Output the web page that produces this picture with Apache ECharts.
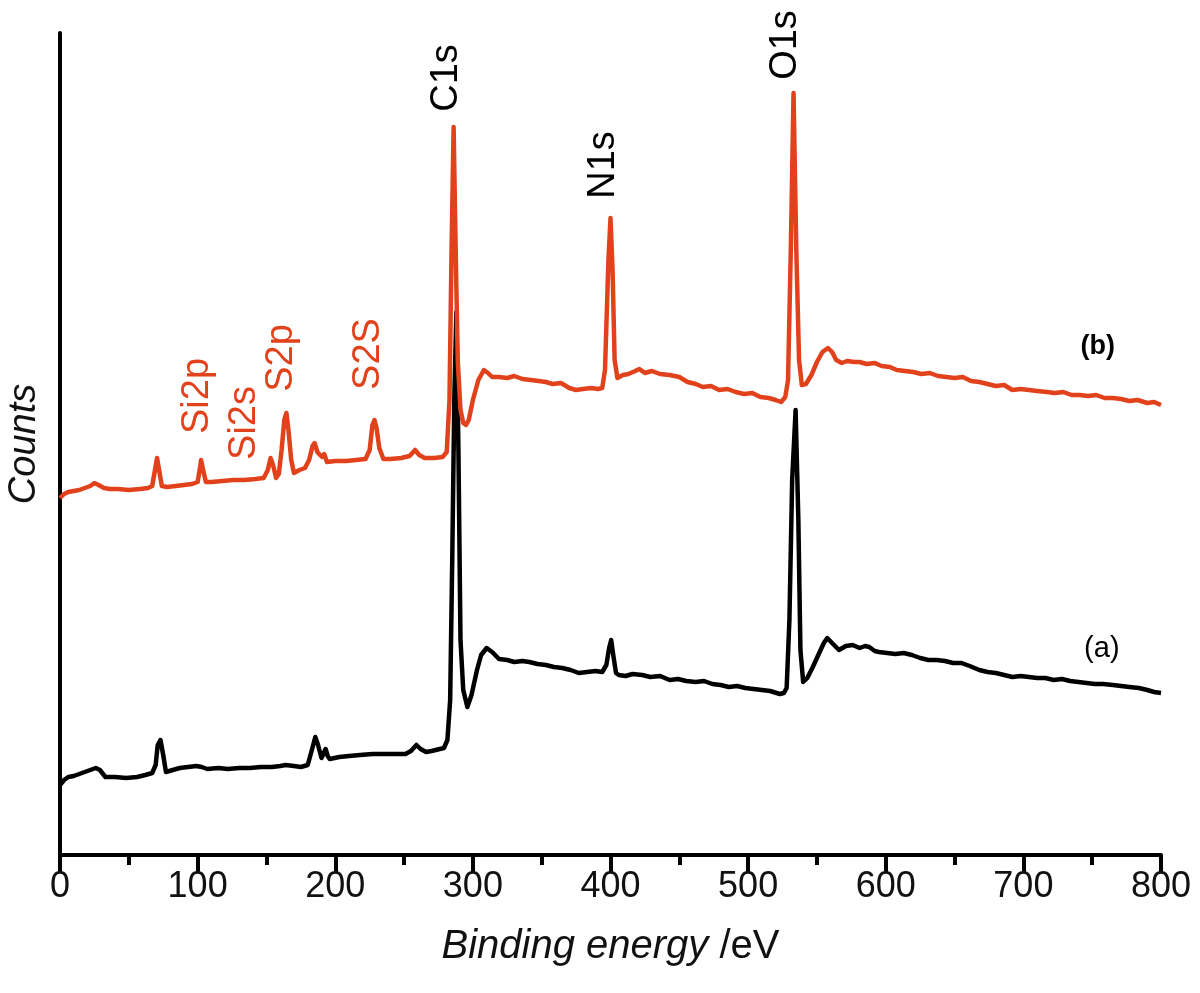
<!DOCTYPE html>
<html>
<head>
<meta charset="utf-8">
<script src="https://cdn.jsdelivr.net/npm/echarts@6/dist/echarts.min.js"></script>
<style>
  html, body { margin: 0; padding: 0; background: #fff; }
  #chart { width: 1200px; height: 993px; }
</style>
</head>
<body>
<div id="chart"></div>
<script>
// XPS survey spectra, counts in arbitrary units
const xTicks = [0, 100, 200, 300, 400, 500, 600, 700, 800]

// (b) red spectrum: [binding energy eV, counts]
const spectrumB = [
  [0, 357], [3, 361], [6, 363], [10, 364], [14, 365], [18, 367], [22, 369], [25, 372], [28, 370], [32, 367],
  [36, 366], [42, 366], [50, 365], [58, 366], [64, 367], [67, 369], [69, 385], [70.5, 397], [72, 385], [74, 369],
  [78, 368], [84, 369], [90, 370], [96, 371], [100, 373], [101.5, 385], [102.5, 395], [104, 385], [106, 373], [110, 373],
  [118, 374], [126, 375], [134, 375], [142, 376], [148, 377], [151, 385], [153, 397], [155, 389], [157, 377], [159, 381],
  [161, 405], [163, 435], [164.5, 442], [166, 425], [168, 395], [170, 382], [174, 385], [178, 387], [181, 395], [183.5, 409],
  [185, 412], [187, 403], [189, 400], [190.5, 398], [192, 401], [194, 393], [200, 394], [208, 394], [215, 395], [222, 396],
  [225, 405], [227, 430], [228.5, 435], [230, 427], [232, 407], [235, 396], [240, 396], [248, 397], [254, 399], [258, 405],
  [261, 400], [265, 397], [272, 397], [278, 398], [281, 403], [283, 455], [284.5, 605], [286, 728], [287.5, 605], [289, 495],
  [291, 445], [293, 432], [295, 430], [297, 435], [300, 455], [304, 475], [308, 485], [311, 482], [314, 478], [319, 478],
  [325, 477], [330, 479], [336, 476], [342, 475], [348, 474], [353, 473], [358, 471], [364, 472], [370, 467], [375, 465],
  [380, 466], [386, 467], [391, 466], [394, 467], [396, 485], [398.5, 595], [400, 637], [401.5, 585], [403, 495], [405, 477],
  [409, 480], [413, 481], [418, 484], [421, 486], [425, 482], [430, 484], [436, 481], [443, 480], [450, 478], [456, 473],
  [462, 471], [467, 468], [473, 469], [479, 465], [485, 466], [491, 463], [497, 461], [503, 462], [509, 458], [515, 457],
  [520, 455], [524, 453], [527, 458], [529, 475], [531, 605], [533, 762], [535, 605], [537, 495], [539, 470], [542, 471],
  [546, 480], [550, 493], [554, 503], [558, 507], [561, 503], [564, 495], [568, 492], [572, 494], [577, 493], [581, 493],
  [586, 491], [592, 492], [597, 489], [603, 488], [608, 485], [614, 484], [620, 483], [626, 481], [632, 482], [638, 479],
  [644, 478], [650, 477], [656, 478], [662, 474], [668, 473], [674, 471], [680, 469], [686, 470], [692, 465], [698, 466],
  [704, 465], [710, 464], [717, 463], [723, 462], [729, 463], [735, 460], [741, 460], [747, 459], [753, 460], [759, 457],
  [765, 457], [771, 456], [777, 454], [783, 455], [790, 452], [795, 453], [800, 450]
]

// (a) black spectrum
const spectrumA = [
  [0, 70], [3, 75], [6, 78], [10, 79], [14, 81], [18, 83], [22, 85], [26, 87], [29, 85], [33, 78],
  [40, 78], [48, 77], [56, 78], [62, 80], [67, 82], [69.5, 90], [71, 110], [73, 115], [75, 100], [77, 83],
  [82, 85], [87, 87], [93, 88], [99, 89], [103, 88], [107, 86], [115, 87], [122, 86], [130, 87], [138, 87],
  [146, 88], [154, 88], [160, 89], [164, 90], [170, 89], [175, 88], [180, 90], [183, 105], [185.5, 118], [187.5, 110],
  [190, 97], [192, 103], [193, 106], [194.5, 99], [196, 96], [203, 98], [210, 99], [218, 100], [227, 101], [235, 101],
  [243, 101], [251, 101], [255, 104], [259, 110], [262, 106], [266, 103], [270, 104], [273, 105], [276, 106], [279, 107],
  [281.5, 115], [283.5, 155], [285, 295], [286.5, 455], [288, 543], [289.5, 405], [291, 215], [293, 165], [296, 148], [299, 160],
  [303, 185], [306, 200], [310, 207], [314, 203], [319, 196], [325, 195], [330, 193], [336, 194], [341, 193], [347, 191],
  [353, 190], [359, 188], [365, 187], [371, 185], [377, 182], [383, 183], [389, 184], [394, 183], [397, 190], [399, 207],
  [400.5, 215], [402, 200], [404, 182], [406, 180], [411, 179], [416, 181], [423, 180], [429, 178], [436, 179], [443, 175],
  [449, 176], [455, 174], [462, 173], [468, 174], [474, 171], [480, 170], [486, 168], [492, 169], [498, 167], [504, 166],
  [510, 165], [516, 164], [523, 161], [526, 162], [528, 167], [530, 235], [532, 375], [534.5, 445], [536.5, 335], [538, 205],
  [540, 173], [543, 177], [547, 188], [551, 200], [555, 212], [557.5, 217], [561, 212], [566, 205], [571, 209], [576, 210],
  [581, 207], [585, 209], [588, 208], [592, 204], [595, 203], [601, 202], [607, 201], [613, 202], [619, 200], [625, 197],
  [631, 195], [637, 195], [643, 194], [649, 192], [655, 192], [661, 189], [668, 185], [674, 183], [680, 182], [686, 180],
  [692, 178], [698, 179], [704, 178], [710, 177], [716, 177], [722, 175], [728, 176], [734, 174], [740, 173], [746, 172],
  [752, 171], [758, 171], [765, 170], [771, 169], [777, 168], [784, 167], [790, 165], [795, 163], [800, 162]
]

// peak labels: [energy, counts, text]
const peakLabelsBlack = [[281, 777, 'C1s'], [395, 690, 'N1s'], [527, 810, 'O1s']]
const peakLabelsRed = [[100, 459, 'Si2p'], [134, 432, 'Si2s'], [161, 497, 'S2p'], [224.5, 501, 'S2S']]
const curveTags = [[754, 508, '(b)'], [757, 206, '(a)']]

const RED = '#e2421b'
const FONT = 'Liberation Sans, Arial, Helvetica, sans-serif'

const chart = echarts.init(document.getElementById('chart'))

const labelSeries = (items, color) => ({
  type: 'scatter',
  symbolSize: 0,
  silent: true,
  z: 5,
  itemStyle: { opacity: 1 },
  data: items.map(d => ({ value: [d[0], d[1]], name: d[2] })),
  label: {
    show: true,
    position: 'inside',
    rotate: 90,
    formatter: p => p.name,
    color: color,
    fontSize: 38,
    fontFamily: FONT
  }
})

chart.setOption({
  animation: false,
  backgroundColor: '#fff',
  grid: { left: 60, right: 39, top: 33, bottom: 138, containLabel: false, outerBoundsMode: 'none' },
  xAxis: {
    type: 'value',
    min: 0,
    max: 800,
    interval: 100,
    name: '{i|Binding energy }{n|/eV}',
    nameLocation: 'middle',
    nameGap: 72,
    nameTextStyle: {
      rich: {
        i: { fontSize: 40, fontStyle: 'italic', fontFamily: FONT, color: '#111' },
        n: { fontSize: 40, fontFamily: FONT, color: '#111' }
      }
    },
    axisLine: { lineStyle: { color: '#000', width: 4 } },
    axisTick: { length: 17, lineStyle: { color: '#000', width: 4 } },
    minorTick: { show: true, splitNumber: 2, length: 10, lineStyle: { color: '#000', width: 4 } },
    axisLabel: {
      margin: 14,
      fontSize: 36,
      fontFamily: FONT,
      color: '#111',
      customValues: xTicks
    },
    splitLine: { show: false }
  },
  yAxis: {
    type: 'value',
    min: 0,
    max: 822,
    name: 'Counts',
    nameLocation: 'middle',
    nameGap: 17,
    nameTextStyle: { fontSize: 38, fontStyle: 'italic', fontFamily: FONT, color: '#111' },
    axisLine: { show: true, lineStyle: { color: '#000', width: 4 } },
    axisTick: { show: false },
    axisLabel: { show: false },
    splitLine: { show: false }
  },
  series: [
    {
      name: '(a)',
      type: 'line',
      data: spectrumA,
      showSymbol: false,
      lineStyle: { color: '#000', width: 4.5, join: 'round' },
      z: 3
    },
    {
      name: '(b)',
      type: 'line',
      data: spectrumB,
      showSymbol: false,
      lineStyle: { color: RED, width: 4.5, join: 'round' },
      z: 4
    },
    labelSeries(peakLabelsBlack, '#000'),
    labelSeries(peakLabelsRed, RED),
    {
      type: 'scatter',
      symbolSize: 0,
      silent: true,
      itemStyle: { opacity: 1 },
      data: curveTags.map(d => ({ value: [d[0], d[1]], name: d[2] })),
      label: {
        show: true,
        position: 'inside',
        formatter: p => p.name === '(b)' ? '{b|(b)}' : '{a|(a)}',
        rich: {
          a: { fontSize: 29, fontFamily: FONT, color: '#000' },
          b: { fontSize: 27, fontWeight: 'bold', fontFamily: FONT, color: '#000' }
        }
      }
    }
  ]
})
</script>
</body>
</html>
